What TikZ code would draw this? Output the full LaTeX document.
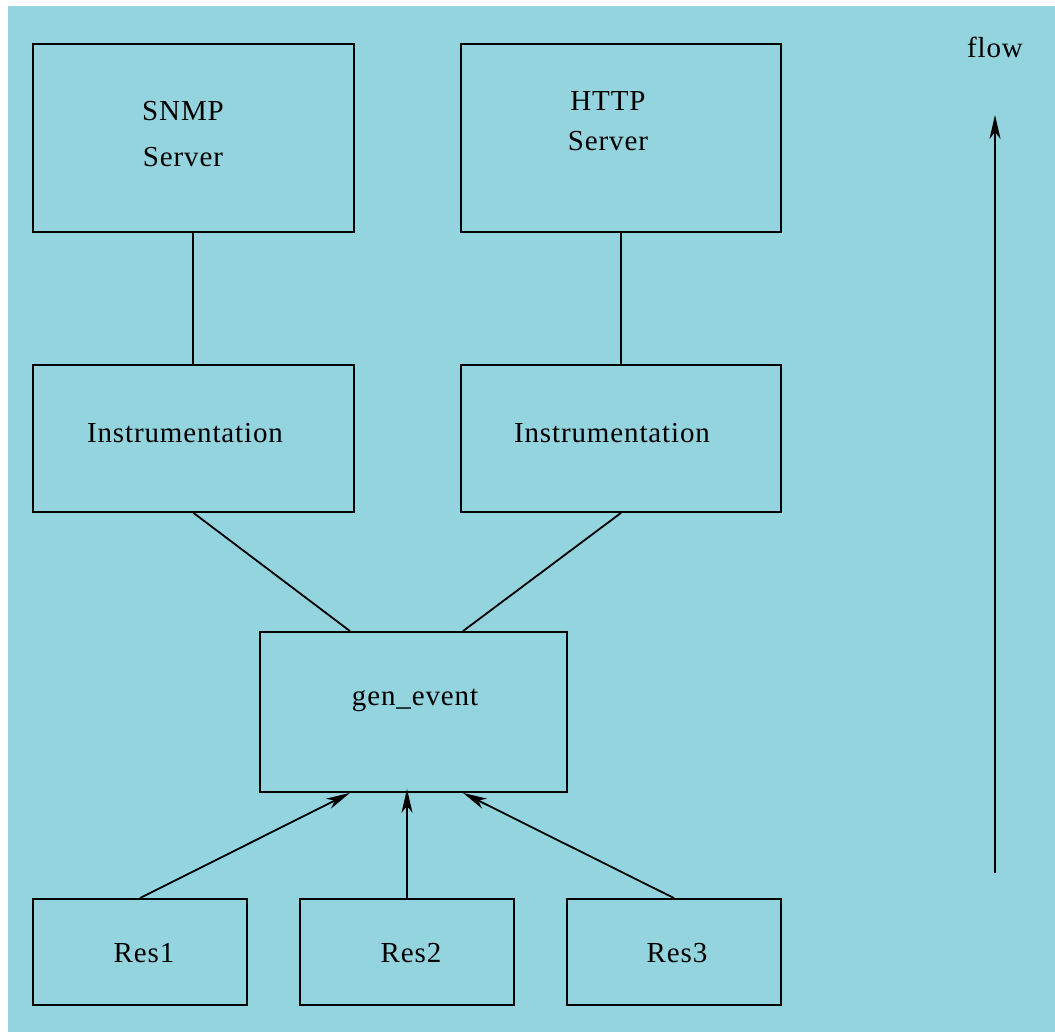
\documentclass[tikz,border=0pt]{standalone}
\usepackage{fontspec}
\setmainfont[LetterSpace=3]{Liberation Serif}
\usetikzlibrary{arrows.meta,calc}
\definecolor{bgc}{RGB}{148,212,222}
\begin{document}
\begin{tikzpicture}[x=1pt,y=-1pt,
  box/.style={draw=black,line width=1.8pt,inner sep=0pt},
  lbl/.style={font=\fontsize{29}{46}\selectfont,align=center,inner sep=0pt},
  conn/.style={line width=1.8pt},
  arr/.style={line width=1.8pt,-{Stealth[length=24pt,width=11pt,inset=7pt]}}]
\useasboundingbox (0,0) rectangle (1055,1032);
\fill[bgc] (8,6) rectangle (1055,1032);
\node[box,minimum width=321pt,minimum height=188pt] (snmp) at (193.5,138) {};
\node[box,minimum width=320pt,minimum height=188pt] (http) at (621,138) {};
\node[box,minimum width=321pt,minimum height=147pt] (insl) at (193.5,438.5) {};
\node[box,minimum width=320pt,minimum height=147pt] (insr) at (621,438.5) {};
\node[box,minimum width=307pt,minimum height=160pt] (gen) at (413.5,712) {};
\node[box,minimum width=214pt,minimum height=106pt] (res1) at (140,952) {};
\node[box,minimum width=214pt,minimum height=106pt] (res2) at (407,952) {};
\node[box,minimum width=214pt,minimum height=106pt] (res3) at (674,952) {};
\node[lbl] (tsnmp) at (183,134) {SNMP\\Server};
\node[lbl] (thttp) at (608,121) {HTTP\\[-6pt]Server};
\node[lbl] (tinsl) at (185,433) {Instrumentation};
\node[lbl] (tinsr) at (612,433) {Instrumentation};
\node[lbl] (tgen) at (415,700) {gen\_event};
\node[lbl] (tres1) at (144,953) {Res1};
\node[lbl] (tres2) at (411,953) {Res2};
\node[lbl] (tres3) at (677,953) {Res3};
\node[lbl] (tflow) at (995,47) {flow};
\draw[conn] ([xshift=-0.5pt]snmp.south) -- ([xshift=-0.5pt]insl.north);
\draw[conn] (http.south) -- (insr.north);
\draw[conn] (insl.south) -- ([xshift=-63.5pt]gen.north);
\draw[conn] (insr.south) -- ([xshift=49.5pt]gen.north);
\draw[arr] (res1.north) -- ([xshift=-63.5pt]gen.south);
\draw[arr] (res2.north) -- ([xshift=-6.5pt,yshift=4pt]gen.south);
\draw[arr] (res3.north) -- ([xshift=49.5pt]gen.south);
\coordinate (fa) at (995,873);
\coordinate (fb) at (995,115);
\draw[arr] (fa) -- (fb);
\end{tikzpicture}
\end{document}
